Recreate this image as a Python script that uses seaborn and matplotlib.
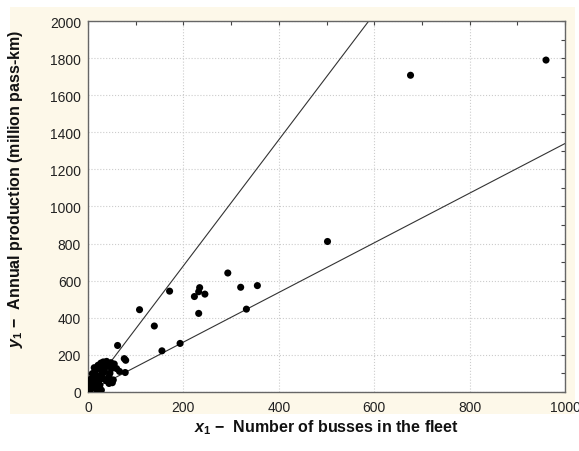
import matplotlib
matplotlib.use("Agg")
import matplotlib.pyplot as plt
import seaborn as sns
import pandas as pd
from matplotlib.patches import Rectangle
from matplotlib.ticker import MultipleLocator

# fleet size vs annual production
busses = [960, 676, 502,
          293, 320, 355, 332, 234, 223, 245, 232, 232, 171, 108, 139, 155, 193,
          62, 76, 79, 78, 53, 44,
          32, 39, 48, 21, 28, 14, 35, 49, 60, 44, 32, 21, 11, 7, 14, 4, 25, 18,
          7, 28, 6, 10, 16, 3, 24, 40, 55, 20, 12, 30, 38, 51, 66,
          43, 27, 36, 17, 9, 52, 23, 33, 13, 46, 5, 19]
production = [1790, 1708, 811,
              641, 564, 573, 446, 562, 514, 527, 540, 423, 543, 443, 355, 221, 261,
              250, 179, 170, 104, 64, 45,
              161, 164, 157, 143, 116, 107, 107, 125, 125, 80, 71, 54, 45, 27, 18, 9, 36, 89,
              71, 9, 45, 60, 30, 20, 130, 140, 150, 10, 80, 95, 60, 49, 110,
              150, 155, 132, 120, 98, 138, 62, 118, 130, 100, 55, 75]

# bounding lines through the origin
upper_slope = 3.4
lower_slope = 1.34

df = pd.DataFrame({"busses": busses, "production": production})

sns.set_style("white")
plt.rcParams["font.family"] = ["Liberation Sans", "DejaVu Sans"]
plt.rcParams["mathtext.fontset"] = "custom"
plt.rcParams["mathtext.it"] = "Liberation Sans:italic:bold"
plt.rcParams["mathtext.rm"] = "Liberation Sans:bold"
plt.rcParams["mathtext.bf"] = "Liberation Sans:bold"

fig = plt.figure(figsize=(5.79, 4.52), dpi=100, facecolor="white")
bg = Rectangle((0.017, 0.082), 0.976, 0.90, transform=fig.transFigure,
               facecolor="#fdf8e9", edgecolor="none", zorder=-10)
fig.add_artist(bg)
ax = fig.add_axes([0.152, 0.131, 0.824, 0.820])
ax.set_facecolor("white")
ax.set_zorder(1)

sns.scatterplot(data=df, x="busses", y="production", ax=ax, color="black",
                s=26, edgecolor="none", zorder=3)
ax.axline((0, 0), slope=upper_slope, color="#333333", lw=0.8, zorder=2)
ax.axline((0, 0), slope=lower_slope, color="#333333", lw=0.8, zorder=2)

ax.set_xlim(0, 1000)
ax.set_ylim(0, 2000)
ax.xaxis.set_major_locator(MultipleLocator(200))
ax.xaxis.set_minor_locator(MultipleLocator(100))
ax.yaxis.set_major_locator(MultipleLocator(200))
ax.yaxis.set_minor_locator(MultipleLocator(100))
ax.grid(True, which="major", ls=":", color="#cccccc", lw=0.8, zorder=0)
ax.tick_params(which="both", direction="in", top=True, right=True,
               length=3, width=0.8, color="#444444")
ax.tick_params(which="major", labelsize=10, labelcolor="#222222", pad=5)
ax.tick_params(axis="x", which="major", pad=6)
for sp in ax.spines.values():
    sp.set_color("#666666")
    sp.set_linewidth(1.0)

ax.set_xlabel(r"$x_1$ $-$  Number of busses in the fleet", fontsize=11.5,
              fontweight="bold", color="#111111")
ax.set_ylabel(r"$y_1$ $-$  Annual production (million pass-km)", fontsize=11.5,
              fontweight="bold", color="#111111")
ax.xaxis.set_label_coords(0.5, -0.068)
ax.yaxis.set_label_coords(-0.132, 0.55)

fig.savefig("out.png", dpi=100, facecolor=fig.get_facecolor())
